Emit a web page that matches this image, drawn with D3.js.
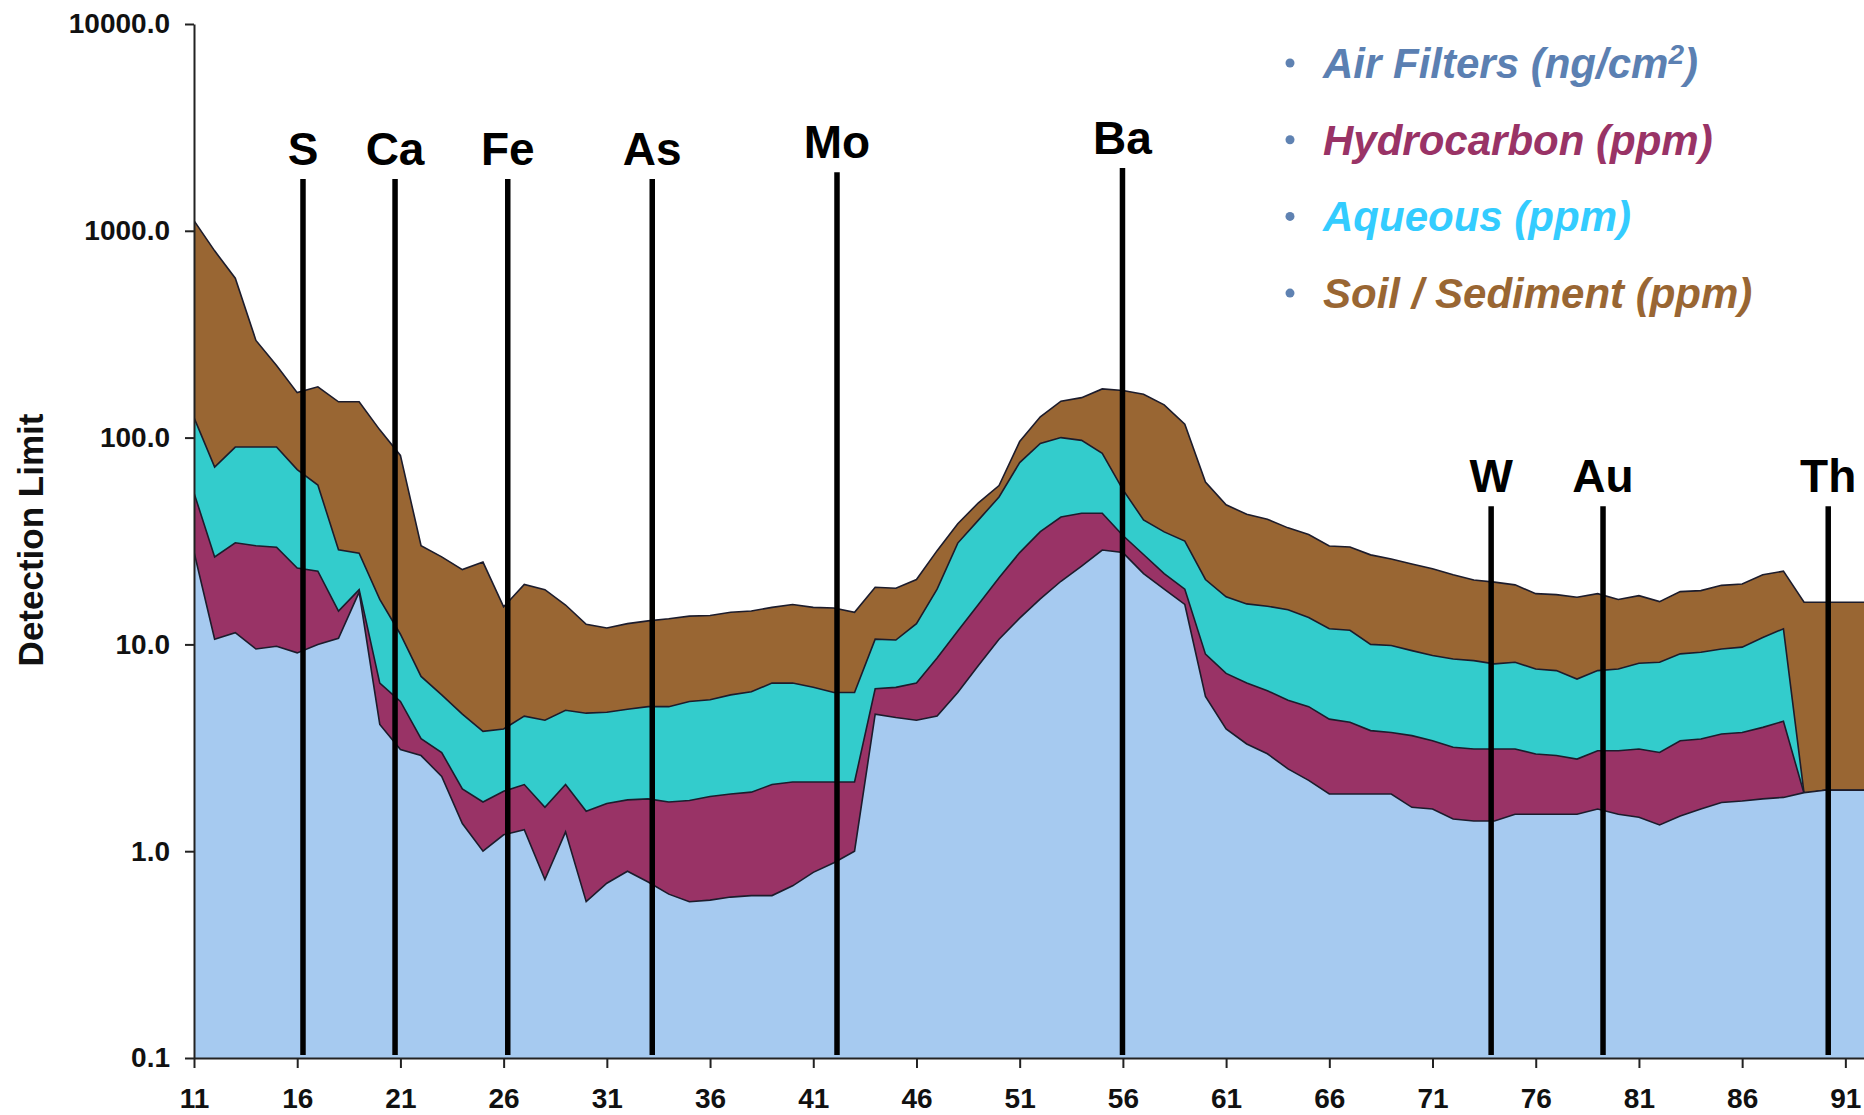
<!DOCTYPE html>
<html>
<head>
<meta charset="utf-8">
<script src="https://cdn.jsdelivr.net/npm/d3@7"></script>
<style>
    html, body { margin: 0; padding: 0; background: #fff; }
    .axis path, .axis line { stroke: #222; stroke-width: 2; }
    .axis text {
        font-family: "Liberation Sans", Arial, sans-serif;
        font-weight: bold; font-size: 28px; fill: #111;
    }
</style>
</head>
<body>
<div id="chart"></div>
<script>
// atomic number (x) and detection limits
const atomicNumbers = [11, 12, 13, 14, 15, 16, 17, 18, 19, 20, 21, 22, 23, 24, 25, 26, 27, 28, 29, 30,
    31, 32, 33, 34, 35, 36, 37, 38, 39, 40, 41, 42, 43, 44, 45, 46, 47, 48, 49, 50,
    51, 52, 53, 54, 55, 56, 57, 58, 59, 60, 61, 62, 63, 64, 65, 66, 67, 68, 69, 70,
    71, 72, 73, 74, 75, 76, 77, 78, 79, 80, 81, 82, 83, 84, 85, 86, 87, 88, 89, 90, 91, 92];

const soilSediment = [1120, 800, 590, 295, 223, 165, 176, 149, 149, 109, 82, 30, 26.5, 23, 25, 15.2, 19.5, 18.4, 15.5, 12.5,
    12.0, 12.6, 13.0, 13.3, 13.7, 13.8, 14.3, 14.5, 15.1, 15.6, 15.1, 15.0, 14.3, 18.9, 18.7, 20.6, 28.4, 38.3, 48.4, 58.6,
    95.7, 126, 150, 156, 172, 169, 162, 144, 116, 61, 47.3, 42.6, 40.3, 36.6, 34, 29.9, 29.6, 27.1, 25.9, 24.5,
    23.2, 21.7, 20.5, 20.0, 19.4, 17.6, 17.4, 16.9, 17.6, 16.5, 17.2, 16.1, 18.0, 18.2, 19.3, 19.6, 21.7, 22.6, 16.0, 16.0, 16.0, 16.0];

const aqueous = [125, 72, 90, 90, 90, 70, 59, 28.7, 27.6, 16.5, 11.2, 7.0, 5.7, 4.6, 3.8, 3.9, 4.5, 4.3, 4.8, 4.65,
    4.7, 4.86, 5.0, 5.0, 5.3, 5.4, 5.7, 5.9, 6.5, 6.5, 6.2, 5.85, 5.85, 10.6, 10.5, 12.6, 18.5, 30.9, 39.9, 51.6,
    75.7, 93.7, 100, 97, 84, 56, 40, 35, 31.6, 20.6, 17, 15.7, 15.3, 14.7, 13.5, 11.9, 11.7, 10.0, 9.87, 9.33,
    8.83, 8.5, 8.35, 8.05, 8.2, 7.6, 7.47, 6.8, 7.47, 7.6, 8.1, 8.2, 9.0, 9.17, 9.5, 9.7, 10.8, 11.9, 1.9, 1.97, 1.97, 1.97];

const hydrocarbon = [54, 26.5, 31, 30, 29.5, 23.4, 22.6, 14.5, 18.4, 6.5, 5.3, 3.5, 3.0, 2.0, 1.73, 1.95, 2.1, 1.63, 2.1, 1.56,
    1.7, 1.77, 1.79, 1.73, 1.76, 1.84, 1.89, 1.93, 2.1, 2.16, 2.16, 2.16, 2.16, 6.1, 6.2, 6.5, 8.6, 11.6, 15.6, 21,
    27.8, 35.1, 41.3, 43.1, 43.1, 33.6, 27.2, 22, 18.5, 8.97, 7.24, 6.5, 5.97, 5.37, 5.0, 4.35, 4.2, 3.83, 3.75, 3.62,
    3.42, 3.18, 3.12, 3.12, 3.12, 2.95, 2.9, 2.79, 3.06, 3.06, 3.12, 3.0, 3.42, 3.49, 3.69, 3.75, 3.97, 4.25, 1.9, 1.97, 1.97, 1.97];

const airFilters = [28, 10.6, 11.4, 9.5, 9.8, 9.1, 10.0, 10.7, 17.9, 4.1, 3.1, 2.9, 2.3, 1.36, 1.0, 1.2, 1.27, 0.73, 1.24, 0.57,
    0.70, 0.80, 0.71, 0.62, 0.57, 0.58, 0.60, 0.61, 0.61, 0.68, 0.79, 0.88, 1.0, 4.6, 4.43, 4.3, 4.5, 5.85, 7.9, 10.6,
    13.4, 16.6, 20.2, 23.9, 28.6, 27.8, 22, 18.5, 15.6, 5.6, 3.9, 3.3, 2.96, 2.5, 2.2, 1.89, 1.89, 1.89, 1.89, 1.63,
    1.6, 1.43, 1.40, 1.40, 1.51, 1.51, 1.51, 1.51, 1.6, 1.51, 1.46, 1.34, 1.48, 1.6, 1.72, 1.75, 1.79, 1.82, 1.92, 1.97, 1.97, 1.97];

const yTicks = [0.1, 1, 10, 100, 1000, 10000];
const xTicks = [11, 16, 21, 26, 31, 36, 41, 46, 51, 56, 61, 66, 71, 76, 81, 86, 91];

// element markers: symbol, x position, top of the marker line (in detection-limit units)
const markerSymbols = ['S', 'Ca', 'Fe', 'As', 'Mo', 'Ba', 'W', 'Au', 'Th'];
const markerPositions = [16.28, 20.74, 26.2, 33.2, 42.15, 55.98, 73.84, 79.26, 90.17];
const markerTops = [1780, 1780, 1780, 1780, 1920, 2010, 46.5, 46.5, 46.5];

const legendLabels = ['Air Filters (ng/cm', 'Hydrocarbon (ppm)', 'Aqueous (ppm)', 'Soil / Sediment (ppm)'];

const W = 1864, H = 1115;

// back to front: soil, aqueous, hydrocarbon, air filters
const series = [
    { values: soilSediment, fill: '#996633' },
    { values: aqueous, fill: '#33CCCC' },
    { values: hydrocarbon, fill: '#993366' },
    { values: airFilters, fill: '#A6CAF0' }
];
const legendColors = ['#5B80B2', '#993366', '#33CCFF', '#996633'];

const x = d3.scaleLinear().domain([11, 92]).range([194, 1866]);
const y = d3.scaleLog().domain([0.1, 10000]).range([1058, 24]);

const svg = d3.select('#chart').append('svg')
    .attr('width', W).attr('height', H)
    .style('display', 'block');

svg.append('defs').append('clipPath').attr('id', 'plot-clip')
    .append('rect').attr('x', 194).attr('y', 0).attr('width', W - 194).attr('height', 1058);

const plot = svg.append('g').attr('clip-path', 'url(#plot-clip)');

series.forEach(s => {
    const pts = atomicNumbers.map((z, i) => [z, s.values[i]]);
    plot.append('path')
        .datum(pts)
        .attr('fill', s.fill)
        .attr('d', d3.area().x(d => x(d[0])).y0(y(0.1)).y1(d => y(d[1])));
    plot.append('path')
        .datum(pts)
        .attr('fill', 'none')
        .attr('stroke', '#1c1c2c')
        .attr('stroke-width', 1.6)
        .attr('d', d3.line().x(d => x(d[0])).y(d => y(d[1])));
});

// axes
svg.append('g')
    .attr('class', 'axis axis-y')
    .attr('transform', 'translate(194, 0)')
    .call(d3.axisLeft(y)
        .tickValues(yTicks)
        .tickFormat(d3.format('.1f'))
        .tickSize(9)
        .tickSizeOuter(0)
        .tickPadding(15));

svg.append('g')
    .attr('class', 'axis axis-x')
    .attr('transform', 'translate(0, 1058)')
    .call(d3.axisBottom(x)
        .tickValues(xTicks)
        .tickSize(10)
        .tickSizeOuter(0)
        .tickPadding(20));

svg.append('text')
    .attr('transform', 'translate(30, 540) rotate(-90)')
    .attr('text-anchor', 'middle')
    .attr('dominant-baseline', 'central')
    .style('font-family', '"Liberation Sans", Arial, sans-serif')
    .style('font-weight', 'bold')
    .style('font-size', '35px')
    .style('fill', '#111')
    .text('Detection Limit');

// element marker lines + labels
const markers = svg.append('g');
markerSymbols.forEach((sym, i) => {
    const mx = x(markerPositions[i]);
    const top = y(markerTops[i]);
    markers.append('line')
        .attr('x1', mx).attr('x2', mx)
        .attr('y1', top).attr('y2', y(0.1) - 3)
        .attr('stroke', '#000')
        .attr('stroke-width', 5.5);
    markers.append('text')
        .attr('x', mx).attr('y', top - 14)
        .attr('text-anchor', 'middle')
        .style('font-family', '"Liberation Sans", Arial, sans-serif')
        .style('font-weight', 'bold')
        .style('font-size', '46px')
        .style('fill', '#000')
        .text(sym);
});

// legend
const legend = svg.append('g').attr('transform', 'translate(1290, 63)');
legendLabels.forEach((label, i) => {
    const row = legend.append('g').attr('transform', `translate(0, ${i * 76.7})`);
    row.append('circle').attr('r', 4.5).attr('fill', '#5F82B2');
    const t = row.append('text')
        .attr('x', 33).attr('y', 15)
        .style('font-family', '"Liberation Sans", Arial, sans-serif')
        .style('font-weight', 'bold')
        .style('font-style', 'italic')
        .style('font-size', '42px')
        .style('fill', legendColors[i])
        .text(label);
    if (i === 0) {
        t.append('tspan').attr('dy', -14).style('font-size', '28px').text('2');
        t.append('tspan').attr('dy', 14).text(')');
    }
});
</script>
</body>
</html>
